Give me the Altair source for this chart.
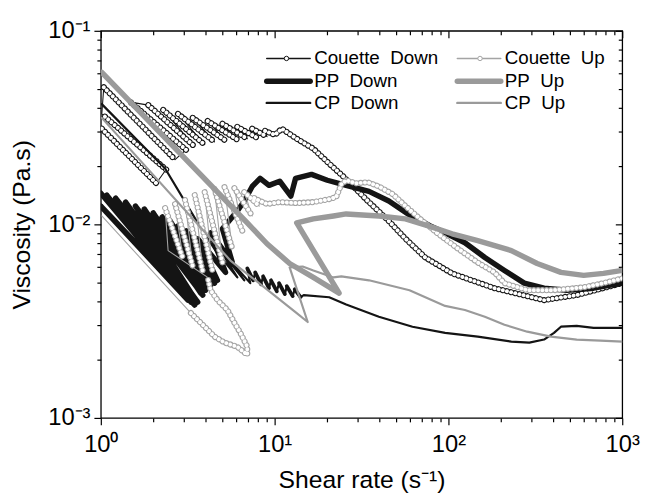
import altair as alt
import pandas as pd

# ---------------- data ----------------
# Couette Down (black, open circles); seg = streak index of each point
cd_x = [1.013, 2.084, 2.375, 1.013, 1.04, 2.673, 3.09, 1.482, 1.876, 3.47, 2.284, 3.96, 2.78, 4.51, 3.38,
        5.22, 4.12, 6.10, 5.01, 6.96, 6.10, 7.93, 7.43, 9.04, 8.81, 10.04, 11.0, 13.4, 16.7, 20.6,
        24.8, 33.5, 45.4, 56.6, 73.6, 105, 184, 355, 547, 1000]
cd_y = [0.0312, 0.0163, 0.0192, 0.0372, 0.0511, 0.0216, 0.0243, 0.0428, 0.0413, 0.0252, 0.039, 0.0258, 0.0372, 0.0267, 0.0355,
        0.0271, 0.0342, 0.0274, 0.0331, 0.0277, 0.0319, 0.028, 0.0312, 0.0284, 0.0304, 0.029, 0.0312, 0.0277, 0.0246, 0.0206,
        0.0177, 0.0135, 0.0104, 0.00843, 0.00674, 0.00558, 0.00468, 0.00406, 0.00431, 0.00497]
cd_seg = [0, 0, 1, 1, 2, 2, 3, 3, 4, 4, 5, 5, 6, 6, 7, 7, 8, 8, 9, 9, 10, 10, 11, 11] + [12] * 16

# Couette Up (grey, open circles)
cu_x = [1.013, 3.30, 3.96, 4.51, 5.15, 6.10, 6.96, 6.96, 6.35, 5.87, 5.35, 4.69, 4.28, 4.12, 2.438,
        2.344, 2.97, 2.673, 3.38, 3.05, 3.86, 3.47, 4.40, 3.96, 5.01, 4.51, 5.71, 5.15, 6.52, 5.87,
        7.43, 6.69, 8.15, 7.63, 9.04, 10.7, 13.4, 16.7, 20.6, 22.6, 24.2, 25.8, 29.4, 34.4, 39.8,
        47.8, 56.6, 70.8, 87.3, 113.5, 147.5, 184, 210, 284, 405, 600, 780, 1000]
cu_y = [0.01105, 0.00348, 0.00296, 0.00263, 0.00245, 0.00233, 0.00212, 0.00233, 0.00275, 0.0031, 0.00361, 0.00406, 0.00457, 0.00532, 0.00732,
        0.01214, 0.00666, 0.01273, 0.00606, 0.01335, 0.00571, 0.01416, 0.00571, 0.01467, 0.00635, 0.0152, 0.00749, 0.01556, 0.00926, 0.01538,
        0.01105, 0.01467, 0.01243, 0.01366, 0.01273, 0.01303, 0.01288, 0.01303, 0.0135, 0.01383, 0.0161, 0.0169, 0.0163, 0.0165, 0.0157,
        0.01432, 0.01244, 0.01042, 0.00894, 0.00749, 0.00635, 0.00565, 0.00497, 0.00457, 0.00457, 0.00473, 0.00497, 0.00526]
cu_seg = [0] + [1] * 13 + [2] + [3, 3, 4, 4, 5, 5, 6, 6, 7, 7, 8, 8, 9, 9, 10, 10, 11, 11] + [12] * 25

# PP Down (black, thick)
pd_x = [1.0, 3.47, 1.0, 3.17, 1.082, 3.30, 1.217, 3.61, 1.388, 3.52, 1.582, 3.86, 1.780, 3.76, 2.003,
        4.01, 2.254, 4.12, 2.503, 4.28, 2.78, 4.51, 3.09, 4.69, 3.61, 5.22, 4.28, 5.71, 5.01, 6.10,
        6.69, 7.43, 8.25, 9.28, 10.7, 12.4, 13.2, 16.3, 20.1, 25.8, 34.9, 45.4, 59.7, 78.6, 95.7,
        124.4, 162, 210, 273, 355, 480, 684, 1000]
pd_y = [0.01449, 0.00383, 0.01243, 0.00406, 0.01416, 0.00397, 0.01366, 0.00397, 0.01303, 0.00406, 0.01243, 0.00431, 0.012, 0.00441, 0.01146,
        0.00457, 0.01092, 0.00468, 0.01042, 0.00485, 0.00982, 0.00497, 0.00926, 0.00514, 0.00843, 0.00565, 0.00905, 0.00635, 0.00948, 0.01173,
        0.0132, 0.0157, 0.0173, 0.0159, 0.0167, 0.014, 0.0173, 0.01813, 0.0169, 0.0159, 0.0148, 0.0132, 0.01118, 0.00982, 0.00905,
        0.00804, 0.00674, 0.00578, 0.00497, 0.00468, 0.00457, 0.00468, 0.00497]

# PP Up (grey, thick)
pu_x = [1.013, 6.96, 9.04, 12.2, 16.7, 23.5, 13.4, 16.7, 21.8, 25.8, 39.8, 56.6, 76.6, 105, 147.5,
        230, 324, 444, 600, 780, 1000]
pu_y = [0.061, 0.01018, 0.00794, 0.00628, 0.00532, 0.00441, 0.01018, 0.01067, 0.01105, 0.01132, 0.01105, 0.01067, 0.00982, 0.00894, 0.00823,
        0.00732, 0.00628, 0.00565, 0.00545, 0.00558, 0.00578]

# CP Down (black, medium); seg >= 0 marks the short heavy dashes
cpd_x = [1.013, 2.344, 3.61, 4.57, 6.10, 4.88, 6.69, 5.35, 7.24, 6.96, 7.53, 7.73, 8.36, 8.58, 9.28,
         9.53, 10.3, 10.6, 11.45, 11.75, 12.7, 13.05, 14.1, 14.7, 20.6, 25.8, 39.8, 62.1, 95.7, 147.5,
         230, 292, 355, 405, 444, 547, 684, 1000]
cpd_y = [0.0418, 0.01945, 0.01018, 0.00732, 0.00532, 0.00732, 0.00514, 0.00674, 0.00497, 0.00592, 0.00514, 0.00565, 0.0049, 0.00539, 0.00468,
         0.00514, 0.00451, 0.00497, 0.00436, 0.00479, 0.00426, 0.00462, 0.00421, 0.00431, 0.0042, 0.00385, 0.00333, 0.00296, 0.00275, 0.00263,
         0.00248, 0.00245, 0.00254, 0.00275, 0.00296, 0.00299, 0.00292, 0.00292]
cpd_seg = [-1] * 9 + [0, 0, 1, 1, 2, 2, 3, 3, 4, 4, 5, 5, 6, 6] + [-1] * 15

# CP Up (grey, medium)
cpu_x = [1.013, 5.57, 13.4, 15.5, 12.2, 14.5, 16.7, 21.8, 24.2, 34.9, 59.7, 95.7, 124.4, 162, 210,
         284, 389, 547, 750, 1000]
cpu_y = [0.0355, 0.0065, 0.00348, 0.00313, 0.00599, 0.00606, 0.00578, 0.00532, 0.00539, 0.00514, 0.00457, 0.00379, 0.00361, 0.00333, 0.00303,
         0.00279, 0.00263, 0.00254, 0.00251, 0.00248]

# axis ticks
x_ticks = [1, 2, 3, 4, 5, 6, 7, 8, 9, 10, 20, 30, 40, 50, 60, 70, 80, 90,
           100, 200, 300, 400, 500, 600, 700, 800, 900, 1000]
y_ticks = [0.001, 0.002, 0.003, 0.004, 0.005, 0.006, 0.007, 0.008, 0.009,
           0.01, 0.02, 0.03, 0.04, 0.05, 0.06, 0.07, 0.08, 0.09, 0.1]
x_labels = {1: "10⁰", 10: "10¹", 100: "10²", 1000: "10³"}
y_labels = {0.1: "10⁻¹", 0.01: "10⁻²", 0.001: "10⁻³"}

legend_names = ["Couette\u00a0 Down", "PP\u00a0 Down", "CP\u00a0 Down",
                "Couette\u00a0 Up", "PP\u00a0 Up", "CP\u00a0 Up"]

# ---------------- build ----------------
def frame(xs, ys, seg=None):
    d = pd.DataFrame({"x": xs, "y": ys, "i": list(range(len(xs)))})
    d["seg"] = seg if seg is not None else 0
    return d

df_cd, df_cu = frame(cd_x, cd_y, cd_seg), frame(cu_x, cu_y, cu_seg)
df_pd, df_pu = frame(pd_x, pd_y), frame(pu_x, pu_y)
df_cpd, df_cpu = frame(cpd_x, cpd_y, cpd_seg), frame(cpu_x, cpu_y)

W, H = 528, 392
FONT = "Liberation Sans, Arial, Helvetica, sans-serif"
BLACK = "#141414"
GRAY = "#9a9a9a"
CGRAY = "#a4a4a4"
DASH = [0.01, 4.3]

xscale = alt.Scale(type="log", domain=[1, 1000], nice=False)
yscale = alt.Scale(type="log", domain=[0.001, 0.1], nice=False)

X = alt.X("x:Q", scale=xscale, axis=None)
Y = alt.Y("y:Q", scale=yscale, axis=None)


def line(df, color, width):
    return alt.Chart(df).mark_line(color=color, strokeWidth=width, strokeJoin="round",
                                   strokeCap="round", clip=True).encode(
        x=X, y=Y, order=alt.Order("i:Q"))


def seg_line(df, color, width, dash=None):
    kw = dict(color=color, strokeWidth=width, strokeJoin="round", strokeCap="round", clip=True)
    if dash is not None:
        kw["strokeDash"] = dash
    return alt.Chart(df).mark_line(**kw).encode(
        x=X, y=Y, order=alt.Order("i:Q"), detail="seg:N")


def chain(df, color):
    # thin connecting line, then a chain of open circles drawn along each streak
    return [line(df, color, 1.1),
            seg_line(df, color, 6.2, DASH),
            seg_line(df, "white", 4.0, DASH)]


data_layers = (chain(df_cd, BLACK)
               + [line(df_pd, BLACK, 5.5),
                  line(df_cpd, BLACK, 2.2),
                  seg_line(df_cpd[df_cpd["seg"] >= 0], BLACK, 3.8)]
               + chain(df_cu, CGRAY)
               + [line(df_pu, GRAY, 5.5), line(df_cpu, GRAY, 2.2)])

xmaj = "indexof([1,10,100,1000], datum.value) >= 0"
ymaj = "indexof([0.1,0.01,0.001], datum.value) >= 0"
x_lab_expr = " : ".join(f"datum.value == {k} ? '{v}'" for k, v in x_labels.items()) + " : ''"
y_lab_expr = " : ".join(f"datum.value == {k} ? '{v}'" for k, v in y_labels.items()) + " : ''"

common = dict(grid=False, domain=False, tickColor="black", tickWidth=1.2,
              labelFont=FONT, labelFontSize=24, labelColor="black",
              labelOverlap=False, labelFlush=False,
              titleFont=FONT, titleFontSize=25, titleFontWeight="normal", titleColor="black")

x_axis = alt.Axis(orient="bottom", values=x_ticks, labelExpr=x_lab_expr,
                  tickSize={"condition": {"test": xmaj, "value": 7}, "value": 4},
                  labelPadding=8, title="Shear rate (s⁻¹)", titlePadding=11, **common)
y_axis = alt.Axis(orient="left", values=y_ticks, labelExpr=y_lab_expr,
                  tickSize={"condition": {"test": ymaj, "value": 7}, "value": 4},
                  labelPadding=4, title="Viscosity (Pa.s)", titlePadding=14, **common)
x_top = alt.Axis(orient="bottom", offset=-H, values=x_ticks, labels=False, title="",
                 tickSize={"condition": {"test": xmaj, "value": 7}, "value": 4},
                 grid=False, domain=False, tickColor="black", tickWidth=1.2)
y_right = alt.Axis(orient="left", offset=-W, values=y_ticks, labels=False, title="",
                   tickSize={"condition": {"test": ymaj, "value": 7}, "value": 4},
                   grid=False, domain=False, tickColor="black", tickWidth=1.2)

xt = pd.DataFrame({"v": x_ticks})
yt = pd.DataFrame({"v": y_ticks})
ax_layers = [
    alt.Chart(xt).mark_point(opacity=0).encode(x=alt.X("v:Q", scale=xscale, axis=x_axis)),
    alt.Chart(yt).mark_point(opacity=0).encode(y=alt.Y("v:Q", scale=yscale, axis=y_axis)),
    alt.Chart(xt).mark_point(opacity=0).encode(x=alt.X("v:Q", scale=xscale, axis=x_top)),
    alt.Chart(yt).mark_point(opacity=0).encode(y=alt.Y("v:Q", scale=yscale, axis=y_right)),
]

# legend (2 columns x 3 rows), positions in plot pixels
leg_rows = [28, 51, 73]
leg_cols = [(168, 212, 188, 216), (361, 405, 384, 409)]
leg_style = [("c", BLACK, 1.5), ("l", BLACK, 5.5), ("l", BLACK, 2.4),
             ("c", CGRAY, 1.5), ("l", GRAY, 5.5), ("l", GRAY, 2.4)]
leg_layers = []
for k, name in enumerate(legend_names):
    col = leg_cols[k // 3]
    yy = leg_rows[k % 3]
    kind, color, wdt = leg_style[k]
    one = pd.DataFrame({"label": [name]})
    leg_layers.append(alt.Chart(one).mark_rule(color=color, strokeWidth=wdt, strokeCap="round").encode(
        x=alt.value(col[0]), x2=alt.value(col[1]), y=alt.value(yy)))
    if kind == "c":
        leg_layers.append(alt.Chart(one).mark_point(shape="circle", filled=True, fill="white",
                                                    stroke=color, strokeWidth=1, size=20, opacity=1).encode(
            x=alt.value(col[2]), y=alt.value(yy)))
    leg_layers.append(alt.Chart(one).mark_text(align="left", baseline="middle", font=FONT,
                                               fontSize=19, color="black").encode(
        x=alt.value(col[3]), y=alt.value(yy), text="label:N"))

chart = alt.layer(*(ax_layers + data_layers + leg_layers)).resolve_axis(
    x="independent", y="independent"
).properties(
    width=W, height=H,
    autosize=alt.AutoSizeParams(type="none"),
    padding={"left": 94, "top": 20, "right": 19, "bottom": 78},
    background="white",
).configure_view(stroke="black", strokeWidth=1.3)

chart.save("out.html", embed_options={"renderer": "svg", "actions": False})
